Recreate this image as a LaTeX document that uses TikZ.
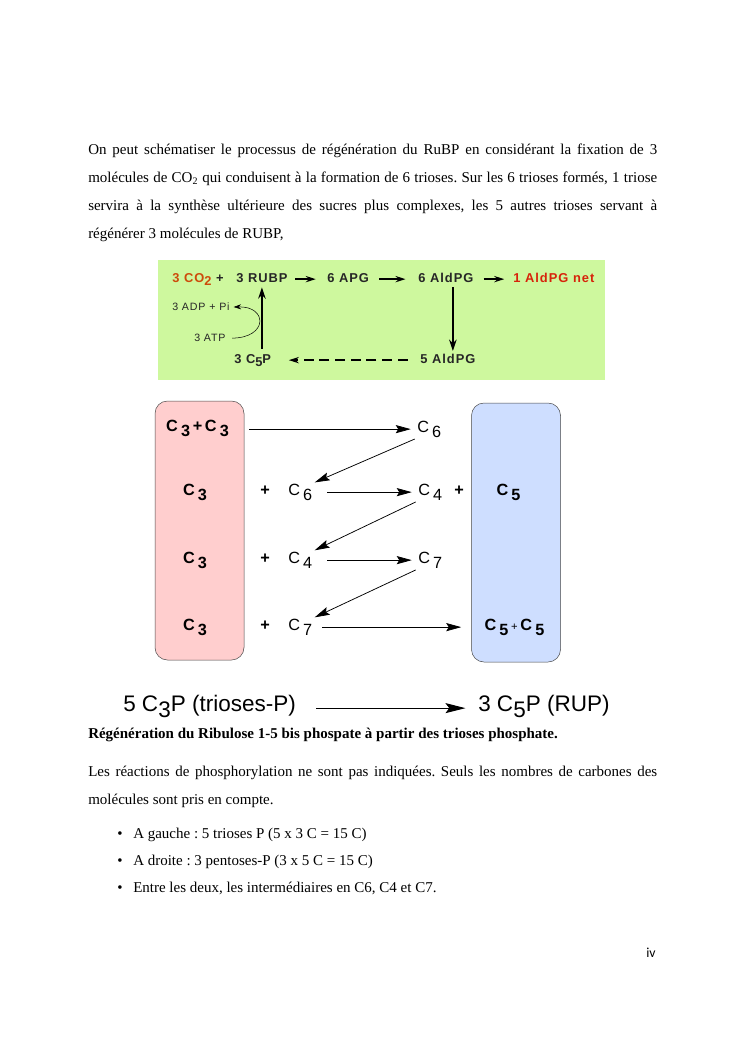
\documentclass[tikz,border=0pt]{standalone}
\usepackage{fontspec}
\setmainfont{Liberation Serif}
\setsansfont{Liberation Sans}
\newfontfamily\cycfont[LetterSpace=8]{Liberation Sans}
\newfontfamily\pagefont{Carlito}
\usepackage{xcolor}
\usepackage{tikz}
\usetikzlibrary{positioning}
\usetikzlibrary{arrows.meta}
\frenchspacing

\definecolor{leafgreen}{RGB}{206,248,158}
\definecolor{triosepink}{RGB}{255,206,206}
\definecolor{pentoseblue}{RGB}{206,222,255}
\definecolor{boxline}{RGB}{70,70,70}
\definecolor{cotwo}{RGB}{205,75,10}
\definecolor{netred}{RGB}{215,35,10}

% carbon label with its lowered number
\newcommand{\carb}[1]{C\hspace{2.5pt}\raisebox{-4.5pt}{#1}}
\newcommand{\carbb}[1]{C\hspace{2.5pt}\raisebox{-4.5pt}{#1}}

\begin{document}
\begin{tikzpicture}[
  x=0.8pt, y=-0.8pt,
  para/.style={
    anchor=base west,
    inner sep=0,
    text width=455.2pt,
    align=justify,
    font=\fontsize{12}{22.4}\selectfont
  },
  cyc/.style={
    anchor=base west,
    inner sep=0,
    font=\cycfont\fontsize{10.3}{12}\selectfont\bfseries,
    text=black!85
  },
  cycsmall/.style={
    anchor=base west,
    inner sep=0,
    font=\cycfont\fontsize{8.5}{10}\selectfont,
    text=black!85
  },
  molec/.style={
    anchor=base west,
    inner sep=0,
    font=\sffamily\fontsize{13}{15}\selectfont
  },
  triose/.style={
    anchor=base,
    inner sep=0,
    font=\sffamily\fontsize{13}{15}\selectfont\bfseries
  },
  sumup/.style={
    anchor=base west,
    inner sep=0,
    font=\sffamily\fontsize{18}{20}\selectfont
  },
  pool/.style={
    rectangle,
    rounded corners=10pt,
    draw=boxline,
    fill=#1,
    minimum width=71.2pt,
    minimum height=207.2pt
  },
  cycarr/.style={-{Stealth[length=8pt,width=5pt]}, line width=1.2pt},
  uparr/.style={-{Stealth[length=9pt,width=6pt]}, line width=1.8pt},
  arr/.style={-{Stealth[length=12pt,width=6.5pt,inset=2pt]}, semithick, shorten >=5pt},
  bigarr/.style={-{Stealth[length=16pt,width=8pt,inset=3pt]}, thick}
]
\useasboundingbox (0,0) rectangle (745,1053);

% ===================== intro text =====================
\node[para] (intro) at (88,154) {On peut schématiser le processus de régénération du RuBP en considérant la fixation de 3\linebreak
molécules de CO\textsubscript{2} qui conduisent à la formation de 6 trioses. Sur les 6 trioses formés, 1 triose\linebreak
servira à la synthèse ultérieure des sucres plus complexes, les 5 autres trioses servant à\linebreak
régénérer 3 molécules de RUBP,};

% ===================== Calvin cycle box =====================
\node[fill=leafgreen, minimum width=357.6pt, minimum height=96pt, inner sep=0] (cycle) at (381.5,320) {};

\node[cyc] (co2)    at (172,282) {{\color{cotwo}3 CO\raisebox{-3pt}{2}} +};
\node[cyc] (rubp)   at (236,282) {3 RUBP};
\node[cyc] (apg)    at (327,282) {6 APG};
\node[cyc] (aldpga) at (418,282) {6 AldPG};
\node[cyc, text=netred] (net) at (513,282) {1 AldPG net};
\node[cycsmall] (adp) at (172,310) {3 ADP + Pi};
\node[cycsmall] (atp) at (194,341) {3 ATP};
\node[cyc] (cfive)  at (234,363) {3 C\raisebox{-3pt}{5}P};
\node[cyc] (aldpgb) at (420,363) {5 AldPG};

\draw[cycarr, shorten <=6pt, shorten >=9pt] (rubp.mid east) -- (apg.mid west);
\draw[cycarr, shorten <=8pt, shorten >=10pt] (apg.mid east) -- (aldpga.mid west);
\draw[cycarr, shorten <=8pt, shorten >=7pt] (aldpga.mid east) -- (net.mid west);
\draw[uparr, shorten <=4pt, shorten >=4pt] (rubp.south |- cfive.north) -- (rubp.south);
\draw[uparr, shorten <=4pt, shorten >=2pt] ([xshift=5.6pt]aldpga.south) -- ([xshift=5.6pt]aldpga.south |- aldpgb.north);
\draw[cycarr, line width=1.5pt, dash pattern=on 8pt off 4.5pt, shorten <=10pt, shorten >=14pt] (aldpgb.mid west) -- (cfive.mid east);
\draw[-{Stealth[length=6pt,width=4pt]}, thin, shorten <=5pt, shorten >=3pt] (atp.mid east) .. controls (268,338) and (268,306) .. (adp.mid east);

% ===================== carbon exchange =====================
\node[pool=triosepink]  (trioses)  at (199.5,530.5) {};
\node[pool=pentoseblue] (pentoses) at (516,532.5) {};

\node[triose] (tone)   at (197.5,431) {\carbb{3}\,+\,\carbb{3}};
\node[triose] (ttwo)   at (195,495) {\carbb{3}};
\node[triose] (tthree) at (195,563) {\carbb{3}};
\node[triose] (tfour)  at (195,630) {\carbb{3}};

\node[triose] (plustwo)   at (265,495) {+};
\node[triose] (plusthree) at (265,563) {+};
\node[triose] (plusfour)  at (265,630) {+};

\node[molec] (c6a) at (417,432) {\carb{6}};
\node[molec] (c6b) at (288,495) {\carb{6}};
\node[molec] (c4a) at (418,495) {\carb{4}};
\node[molec] (c4b) at (288,563) {\carb{4}};
\node[molec] (c7a) at (418,563) {\carb{7}};
\node[molec] (c7b) at (288,630) {\carb{7}};

\node[triose] (plusright) at (459,495) {+};
\node[triose] (pone) at (508.5,495) {\carbb{5}};
\node[triose] (ptwo) at (514.5,630) {\carbb{5}\,{\mdseries\small +}\,\carbb{5}};

\draw[arr, shorten <=4pt] (trioses.east |- c6a.mid west) -- (c6a.mid west);
\draw[arr, shorten <=12pt] (c6b.mid east) -- (c4a.mid west);
\draw[arr, shorten <=12pt] (c4b.mid east) -- (c7a.mid west);
\draw[arr, shorten <=8pt, shorten >=8pt] (c7b.mid east) -- (pentoses.west |- c7b.mid east);
\draw[arr, shorten <=2pt, shorten >=2pt] (c6a.south west) -- (c6b.north east);
\draw[arr, shorten <=2pt, shorten >=2pt] (c4a.south west) -- (c4b.north east);
\draw[arr, shorten <=2pt, shorten >=2pt] (c7a.south west) -- (c7b.north east);

% ===================== balance =====================
\node[sumup] (sumleft)  at (123,711) {5 C\raisebox{-5pt}{3}P (trioses-P)};
\node[sumup] (sumright) at (478,711) {3 C\raisebox{-5pt}{5}P (RUP)};
\draw[bigarr, shorten <=16pt, shorten >=10pt] (sumleft.mid east) -- (sumright.mid west);

% ===================== caption and notes =====================
\node[anchor=base west, inner sep=0, font=\fontsize{12}{14}\selectfont\bfseries] (caption) at (88,738)
  {Régénération du Ribulose 1-5 bis phospate à partir des trioses phosphate.};
\node[para] (notes) at (88,776) {Les réactions de phosphorylation ne sont pas indiquées. Seuls les nombres de carbones des\linebreak
molécules sont pris en compte.};

\foreach \y/\txt [count=\i] in {838/{A gauche : 5 trioses P (5 x 3 C = 15 C)},
                                865/{A droite : 3 pentoses-P (3 x 5 C = 15 C)},
                                892/{Entre les deux, les intermédiaires en C6, C4 et C7.}} {
  \node[anchor=base, inner sep=0, font=\fontsize{12}{14}\selectfont] (dot\i) at (120,\y) {•};
  \node[anchor=base west, inner sep=0, font=\fontsize{12}{14}\selectfont] (item\i) at (133,\y) {\txt};
}

\node[anchor=base west, inner sep=0, font=\pagefont\fontsize{11}{13}\selectfont] (pagenum) at (646,957) {iv};
\end{tikzpicture}
\end{document}
